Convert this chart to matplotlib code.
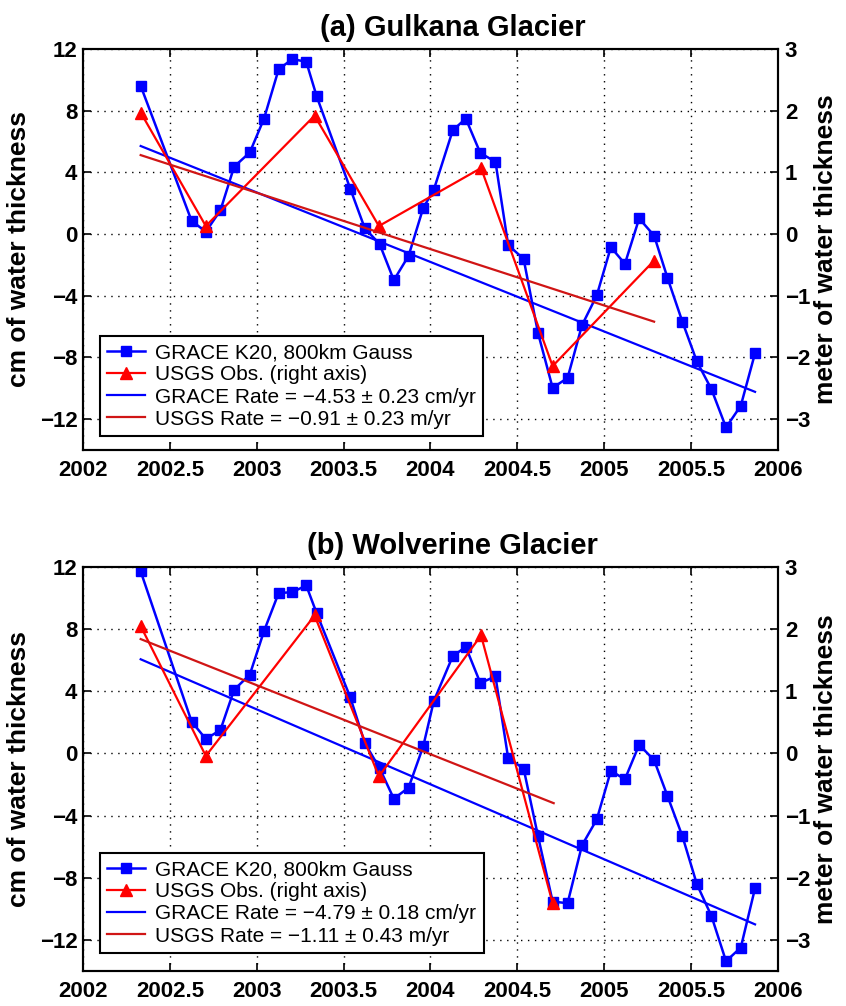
import matplotlib
matplotlib.use("Agg")
import matplotlib.pyplot as plt

plt.rcParams['font.family'] = ['Liberation Sans', 'DejaVu Sans']

# GRACE monthly epochs (decimal year), shared by both panels
grace_t = [2002.332, 2002.625, 2002.707, 2002.791, 2002.870, 2002.960, 2003.042, 2003.126,
           2003.205, 2003.285, 2003.345, 2003.538, 2003.622, 2003.707, 2003.789, 2003.874,
           2003.958, 2004.019, 2004.128, 2004.203, 2004.287, 2004.374, 2004.447, 2004.536,
           2004.619, 2004.703, 2004.789, 2004.872, 2004.957, 2005.038, 2005.119, 2005.201,
           2005.287, 2005.364, 2005.450, 2005.533, 2005.617, 2005.701, 2005.786, 2005.868]

# (a) Gulkana
grace_a = [9.61, 0.86, 0.15, 1.54, 4.37, 5.29, 7.49, 10.68, 11.35, 11.17, 8.93, 2.95, 0.37,
           -0.64, -2.99, -1.41, 1.69, 2.87, 6.72, 7.49, 5.25, 4.69, -0.71, -1.61, -6.42,
           -9.97, -9.33, -5.91, -3.98, -0.85, -1.93, 1.01, -0.10, -2.84, -5.69, -8.26,
           -10.06, -12.54, -11.13, -7.72]
usgs_a_t = [2002.332, 2002.707, 2003.333, 2003.703, 2004.291, 2004.703, 2005.287]
usgs_a = [1.97, 0.13, 1.92, 0.13, 1.07, -2.14, -0.43]
grace_fit_a_t = [2002.332, 2005.868]
grace_fit_a = [5.71, -10.23]
usgs_fit_a_t = [2002.332, 2005.287]
usgs_fit_a = [1.28, -1.42]

# (b) Wolverine
grace_b = [11.72, 2.05, 0.93, 1.51, 4.10, 5.07, 7.88, 10.32, 10.38, 10.81, 9.02, 3.62, 0.67,
           -0.95, -2.91, -2.20, 0.45, 3.37, 6.26, 6.86, 4.53, 4.96, -0.30, -0.97, -5.33,
           -9.53, -9.64, -5.91, -4.25, -1.12, -1.66, 0.56, -0.43, -2.74, -5.33, -8.41,
           -10.46, -13.37, -12.49, -8.67]
usgs_b_t = [2002.332, 2002.707, 2003.333, 2003.703, 2004.291, 2004.703]
usgs_b = [2.05, -0.04, 2.22, -0.37, 1.90, -2.41]
grace_fit_b_t = [2002.332, 2005.868]
grace_fit_b = [6.06, -11.00]
usgs_fit_b_t = [2002.332, 2004.709]
usgs_fit_b = [1.84, -0.80]

titles = ["(a) Gulkana Glacier", "(b) Wolverine Glacier"]
grace_rates = ["GRACE Rate = \u22124.53 \u00b1 0.23 cm/yr", "GRACE Rate = \u22124.79 \u00b1 0.18 cm/yr"]
usgs_rates = ["USGS Rate = \u22120.91 \u00b1 0.23 m/yr", "USGS Rate = \u22121.11 \u00b1 0.43 m/yr"]

x_ticks = [2002, 2002.5, 2003, 2003.5, 2004, 2004.5, 2005, 2005.5, 2006]
x_labels = ["2002", "2002.5", "2003", "2003.5", "2004", "2004.5", "2005", "2005.5", "2006"]
cm_ticks = [-12, -8, -4, 0, 4, 8, 12]
m_ticks = [-3, -2, -1, 0, 1, 2, 3]

BLUE = '#0000ff'
RED = '#ff0000'
DRED = '#d01515'

fig = plt.figure(figsize=(8.46, 10.06), dpi=100)
boxes = [[0.0981, 0.5527, 0.8215, 0.3986], [0.0981, 0.0348, 0.8215, 0.4016]]
legend_anchor = [(0.0245, 0.035), (0.0245, 0.045)]

panels = [(grace_a, usgs_a_t, usgs_a, grace_fit_a_t, grace_fit_a, usgs_fit_a_t, usgs_fit_a),
          (grace_b, usgs_b_t, usgs_b, grace_fit_b_t, grace_fit_b, usgs_fit_b_t, usgs_fit_b)]

for i, (g, ut, u, gft, gf, uft, uf) in enumerate(panels):
    ax = fig.add_axes(boxes[i])
    ax2 = ax.twinx()

    h1, = ax.plot(grace_t, g, '-s', color=BLUE, lw=1.8, ms=7, label="GRACE K20, 800km Gauss")
    h3, = ax.plot(gft, gf, '-', color=BLUE, lw=1.6, label=grace_rates[i])
    h2, = ax2.plot(ut, u, '-^', color=RED, lw=1.6, ms=8, label="USGS Obs. (right axis)")
    h4, = ax2.plot(uft, uf, '-', color=DRED, lw=1.6, label=usgs_rates[i])

    ax.set_xlim(2002, 2006)
    ax.set_ylim(-14, 12)
    ax2.set_ylim(-3.5, 3)
    ax.set_xticks(x_ticks)
    ax.set_xticklabels(x_labels)
    ax.set_yticks(cm_ticks)
    ax.set_yticklabels([str(v).replace('-', '\u2212') for v in cm_ticks])
    ax2.set_yticks(m_ticks)
    ax2.set_yticklabels([str(v).replace('-', '\u2212') for v in m_ticks])

    ax.grid(True, color='black', linestyle=(0, (1, 4)), linewidth=1.0)
    ax.tick_params(axis='x', direction='in', length=6, width=1.2, top=True, pad=7,
                   labelsize=16)
    ax.tick_params(axis='y', direction='in', length=6, width=1.2, pad=4, labelsize=16)
    ax2.tick_params(axis='y', direction='in', length=6, width=1.2, pad=5, labelsize=16)
    for lab in ax.get_xticklabels() + ax.get_yticklabels() + ax2.get_yticklabels():
        lab.set_fontweight('bold')
    for a in (ax, ax2):
        for sp in a.spines.values():
            sp.set_linewidth(1.5)

    ax.set_ylabel("cm of water thickness", fontsize=19, fontweight='bold', labelpad=6)
    ax2.set_ylabel("meter of water thickness", fontsize=19, fontweight='bold', labelpad=3)
    ax.set_title(titles[i], fontsize=21, fontweight='bold', x=0.532, pad=9)

    leg = ax2.legend([h1, h2, h3, h4], [h.get_label() for h in (h1, h2, h3, h4)],
                     loc='lower left', bbox_to_anchor=legend_anchor[i], borderaxespad=0,
                     fontsize=15, frameon=True, fancybox=False, framealpha=1,
                     edgecolor='black', handlelength=1.8, handletextpad=0.5,
                     labelspacing=0.15, borderpad=0.35)
    leg.get_frame().set_linewidth(1.5)

fig.savefig("out.png", dpi=100)
